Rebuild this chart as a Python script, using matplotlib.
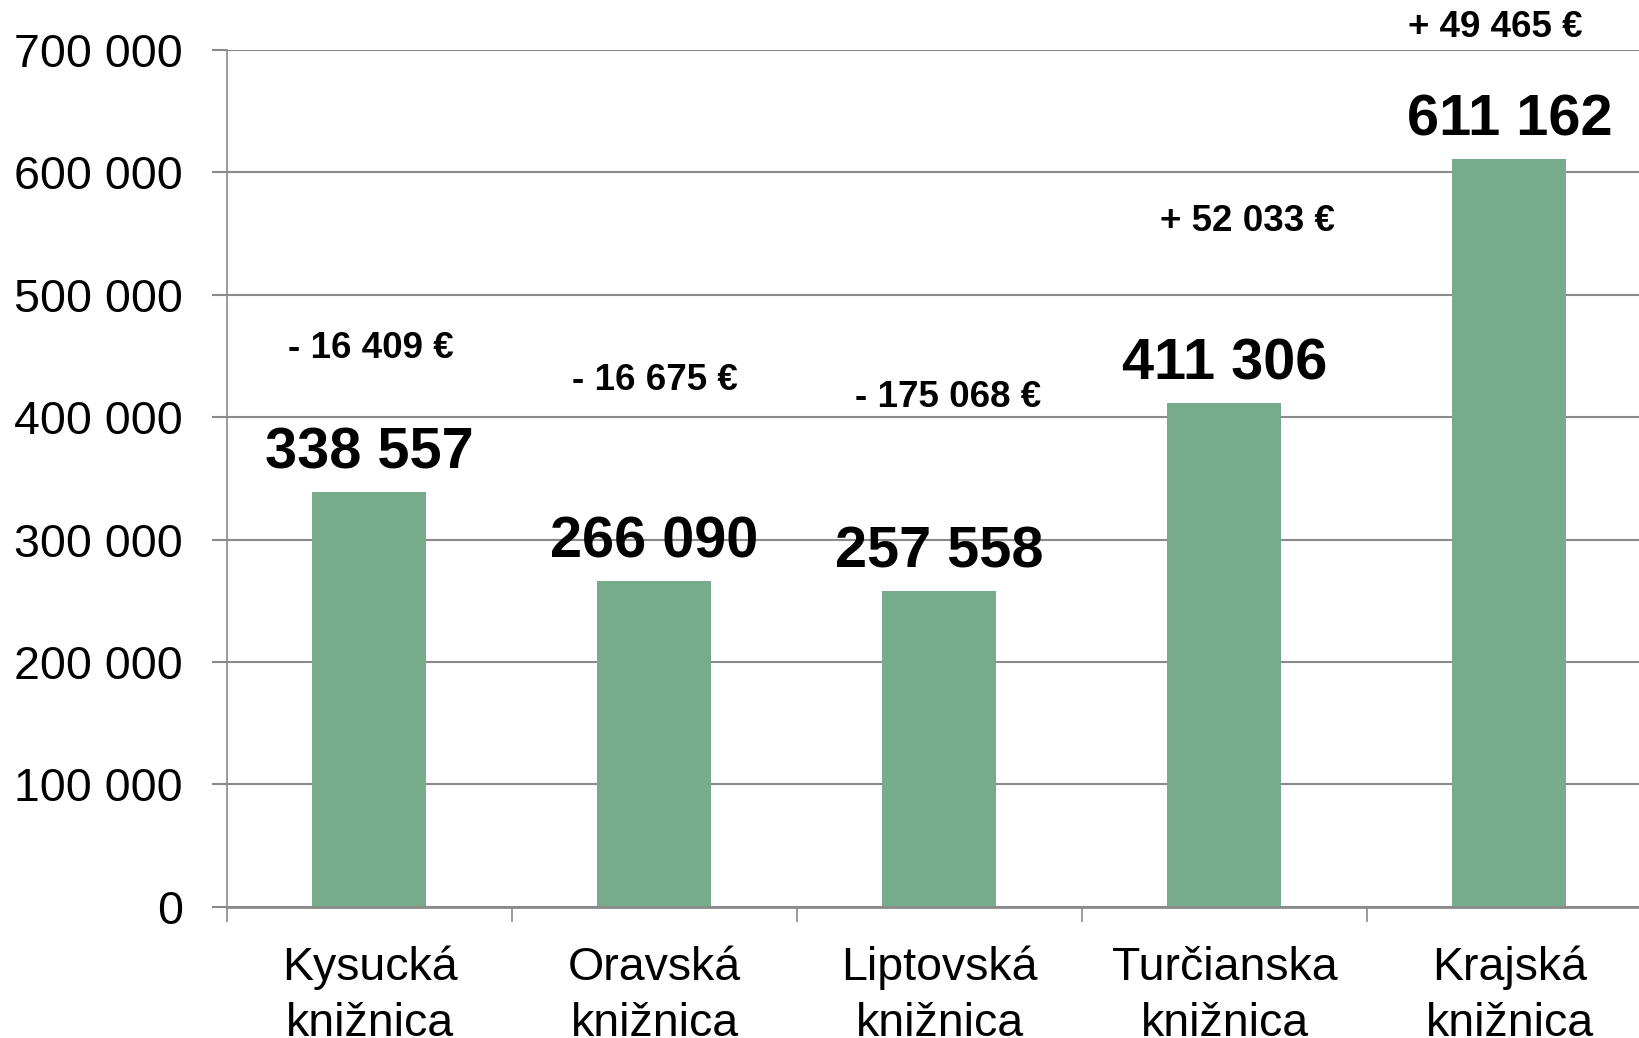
import matplotlib.pyplot as plt
from matplotlib.ticker import FuncFormatter, FixedLocator

plt.rcParams['font.family'] = ['Liberation Sans', 'DejaVu Sans']

# data
libraries = ['Kysucká\nknižnica', 'Oravská\nknižnica', 'Liptovská\nknižnica',
             'Turčianska\nknižnica', 'Krajská\nknižnica']
budgets = [338557, 266090, 257558, 411306, 611162]
changes = ['- 16 409 €', '- 16 675 €', '- 175 068 €', '+ 52 033 €', '+ 49 465 €']

# where the change labels sit (x offset from bar, y in data units)
change_dx = [0.005, 0.0, 0.03, 0.08, -0.05]
change_y = [448000, 422000, 408000, 552000, 711000]

bar_color = '#76AB8B'
grid_color = '#8A8A8A'


def fmt_thousands(v, pos):
    return '{:,.0f}'.format(v).replace(',', ' ')


fig = plt.figure(figsize=(16.39, 10.38), dpi=100, facecolor='white')
ax = fig.add_axes([0.1385, 0.1265, 0.8694, 0.8253])

x = list(range(len(libraries)))
ax.bar(x, budgets, width=0.4, color=bar_color, zorder=3)

ax.set_xlim(-0.5, len(libraries) - 0.5)
ax.set_ylim(0, 700000)
ax.set_yticks(range(0, 700001, 100000))
ax.yaxis.set_major_formatter(FuncFormatter(fmt_thousands))
ax.yaxis.grid(True, color=grid_color, linewidth=1.5, zorder=0)

ax.set_xticks(x)
ax.set_xticklabels(libraries, fontsize=33.5, linespacing=1.36)
ax.xaxis.set_minor_locator(FixedLocator([i - 0.5 for i in range(len(libraries) + 1)]))
ax.tick_params(axis='x', which='major', length=0, pad=28)
ax.tick_params(axis='x', which='minor', length=10.8, width=1.2, color=grid_color)
ax.tick_params(axis='y', which='major', length=10.8, width=1.5, color=grid_color,
               labelsize=33.5, pad=21)

for side in ['top', 'right']:
    ax.spines[side].set_visible(False)
ax.spines['left'].set_color(grid_color)
ax.spines['left'].set_linewidth(1.2)
ax.spines['bottom'].set_color(grid_color)
ax.spines['bottom'].set_linewidth(2)
ax.spines['bottom'].set_zorder(4)

for i, v in enumerate(budgets):
    ax.annotate(fmt_thousands(v, None), xy=(i, v), xytext=(0, 17),
                textcoords='offset points', ha='center', va='baseline',
                fontsize=41.5, fontweight='bold', annotation_clip=False)

for i, t in enumerate(changes):
    ax.text(i + change_dx[i], change_y[i], t, ha='center', va='baseline',
            fontsize=26.5, fontweight='bold', clip_on=False)

fig.savefig('out.png', dpi=100, facecolor='white')
